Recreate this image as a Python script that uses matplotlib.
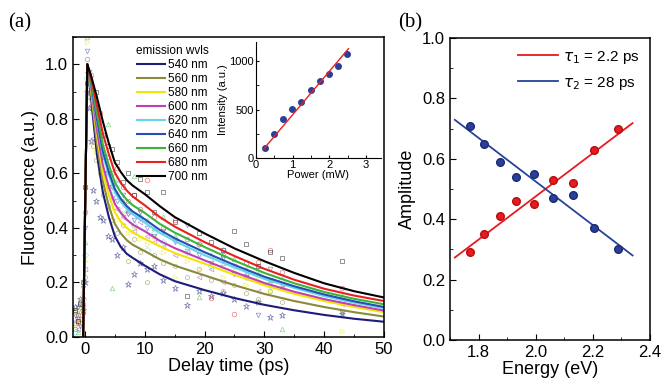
import numpy as np
import matplotlib
matplotlib.use("Agg")
import matplotlib.pyplot as plt
from matplotlib.ticker import MultipleLocator

plt.rcParams['font.family'] = ['Liberation Sans', 'DejaVu Sans']

# ---- panel (a): fitted decay curves ----
wvls = ["540 nm", "560 nm", "580 nm", "600 nm", "620 nm", "640 nm", "660 nm", "680 nm", "700 nm"]
colors = ["#1c1c7a", "#8a8a3c", "#f2e600", "#c040b4", "#66d4ec", "#2450b0", "#3cb43c", "#e8201e", "#000000"]
markers = ["*", "h", ">", "<", "D", "v", "^", "o", "s"]

t_fit = [-0.3, 0.4, 1, 2, 3, 4, 5, 6, 7, 8, 10, 12.5, 15, 20, 25, 30, 35, 40, 45, 50]
fit_540 = [0, 1.0, .88, .67, .53, .44, .37, .33, .305, .29, .262, .23, .205, .172, .143, .118, .098, .081, .067, .056]
fit_560 = [0, 1.0, .90, .71, .57, .48, .415, .38, .355, .338, .315, .285, .262, .226, .19, .158, .132, .11, .091, .075]
fit_580 = [0, 1.0, .91, .74, .60, .52, .457, .423, .40, .383, .36, .333, .308, .269, .228, .19, .158, .132, .11, .091]
fit_600 = [0, 1.0, .92, .76, .63, .55, .488, .455, .43, .412, .388, .353, .326, .281, .238, .198, .166, .139, .117, .097]
fit_620 = [0, 1.0, .93, .79, .67, .595, .532, .496, .47, .45, .42, .382, .352, .30, .255, .213, .18, .15, .126, .106]
fit_640 = [0, 1.0, .935, .80, .68, .605, .543, .507, .48, .46, .432, .393, .362, .311, .264, .221, .186, .156, .131, .11]
fit_660 = [0, 1.0, .94, .82, .705, .63, .567, .53, .503, .483, .455, .415, .383, .33, .28, .235, .197, .165, .14, .12]
fit_680 = [0, 1.0, .95, .85, .745, .67, .603, .565, .537, .515, .483, .44, .405, .348, .297, .25, .21, .177, .152, .132]
fit_700 = [0, 1.0, .96, .88, .79, .71, .64, .605, .575, .555, .524, .48, .44, .38, .325, .278, .235, .197, .168, .145]
fits = [fit_540, fit_560, fit_580, fit_600, fit_620, fit_640, fit_660, fit_680, fit_700]

# measured points (same delay grid for every wavelength)
t_data = [-1.6, -1.2, -0.8, -0.4, 0.0, 0.3, 0.6, 1.0, 1.4, 1.9, 2.5, 3.1, 3.8, 4.6, 5.4, 6.3, 7.2,
          8.2, 9.2, 10.3, 11.5, 13.0, 15.0, 17.0, 19.0, 21.0, 23.0, 25.0, 27.0, 29.0, 31.0, 33.0, 43.0]
dat_540 = [0.11, 0.07, 0.14, 0.10, 0.20, 0.90, 0.84, 0.72, 0.54, 0.50, 0.44, 0.43, 0.37, 0.36, 0.30, 0.33, 0.196,
           0.232, 0.27, 0.25, 0.26, 0.21, 0.18, 0.117, 0.17, 0.15, 0.16, 0.14, 0.114, 0.13, 0.072, 0.08, 0.085]
dat_560 = [0.09, 0.05, 0.13, 0.11, 0.22, 0.93, 0.88, 0.84, 0.70, 0.65, 0.60, 0.52, 0.48, 0.43, 0.38, 0.41, 0.28,
           0.36, 0.31, 0.20, 0.30, 0.27, 0.26, 0.22, 0.25, 0.21, 0.17, 0.19, 0.16, 0.14, 0.17, 0.13, 0.09]
dat_580 = [0.04, 0.10, 0.06, 0.16, 0.28, 1.08, 0.92, 0.87, 0.71, 0.68, 0.62, 0.56, 0.52, 0.47, 0.43, 0.45, 0.38,
           0.40, 0.36, 0.34, 0.37, 0.31, 0.22, 0.28, 0.25, 0.27, 0.22, 0.24, 0.19, 0.21, 0.17, 0.18, 0.023]
dat_600 = [0.06, 0.03, 0.12, 0.09, 0.25, 0.97, 0.90, 0.85, 0.73, 0.72, 0.66, 0.60, 0.55, 0.51, 0.47, 0.44, 0.46,
           0.39, 0.42, 0.37, 0.35, 0.33, 0.30, 0.31, 0.22, 0.25, 0.20, 0.26, 0.23, 0.17, 0.21, 0.18, 0.12]
dat_620 = [0.02, 0.07, 0.10, 0.14, 0.30, 0.95, 0.92, 0.88, 0.82, 0.76, 0.75, 0.64, 0.60, 0.52, 0.56, 0.47, 0.46,
           0.41, 0.44, 0.32, 0.38, 0.35, 0.36, 0.31, 0.34, 0.26, 0.32, 0.26, 0.22, 0.24, 0.19, 0.21, 0.13]
dat_640 = [0.08, 0.11, 0.04, 0.18, 0.40, 1.05, 0.97, 0.91, 0.84, 0.79, 0.70, 0.66, 0.60, 0.55, 0.50, 0.52, 0.45,
           0.43, 0.46, 0.40, 0.37, 0.39, 0.35, 0.41, 0.30, 0.27, 0.29, 0.23, 0.22, 0.08, 0.25, 0.19, 0.09]
dat_660 = [0.05, 0.02, 0.09, 0.15, 0.35, 1.10, 0.93, 0.88, 0.86, 0.78, 0.74, 0.66, 0.78, 0.178, 0.58, 0.50, 0.47,
           0.59, 0.44, 0.43, 0.40, 0.44, 0.37, 0.33, 0.147, 0.30, 0.27, 0.287, 0.25, 0.23, 0.21, 0.03, 0.15]
dat_680 = [0.03, 0.08, 0.05, 0.12, 0.46, 1.02, 0.95, 0.96, 0.88, 0.84, 0.82, 0.71, 0.66, 0.60, 0.62, 0.55, 0.50,
           0.52, 0.47, 0.575, 0.44, 0.40, 0.43, 0.36, 0.34, 0.143, 0.30, 0.086, 0.27, 0.275, 0.32, 0.24, 0.178]
dat_700 = [0.10, 0.06, 0.12, 0.20, 0.55, 0.93, 0.94, 0.92, 0.86, 0.90, 0.80, 0.74, 0.70, 0.69, 0.64, 0.57, 0.60,
           0.52, 0.58, 0.53, 0.46, 0.53, 0.42, 0.15, 0.38, 0.35, 0.32, 0.39, 0.34, 0.26, 0.31, 0.29, 0.28]
dats = [dat_540, dat_560, dat_580, dat_600, dat_620, dat_640, dat_660, dat_680, dat_700]

# inset: intensity vs power
power = [0.24, 0.49, 0.74, 0.99, 1.24, 1.49, 1.74, 2.0, 2.24, 2.49]
intensity = [100, 247, 399, 502, 580, 701, 794, 873, 951, 1072]
power_fit = [0.21, 2.52]
intensity_fit = [93, 1131]

# ---- panel (b): amplitudes vs energy ----
energy = [1.769, 1.82, 1.875, 1.932, 1.994, 2.06, 2.13, 2.205, 2.287]
amp1 = [0.29, 0.35, 0.41, 0.46, 0.45, 0.53, 0.52, 0.63, 0.70]
amp2 = [0.71, 0.65, 0.59, 0.54, 0.55, 0.47, 0.48, 0.37, 0.30]
e_fit = [1.717, 2.339]
amp1_fit = [0.273, 0.718]
amp2_fit = [0.729, 0.280]

fig = plt.figure(figsize=(6.64, 3.86), dpi=100)
ax = fig.add_axes([0.1099, 0.1269, 0.4684, 0.7772])
ax2 = fig.add_axes([0.6777, 0.1192, 0.3012, 0.7824])
axin = fig.add_axes([0.3855, 0.5907, 0.188, 0.3005])

for d, c, m in zip(dats, colors, markers):
    ms = 4.5 if m == "*" else 3.3
    ax.plot(t_data, d, linestyle="none", marker=m, ms=ms, mfc="none", mec=c, mew=0.5, alpha=0.6)
for f, c, lab in zip(fits, colors, wvls):
    ax.plot(t_fit, f, color=c, lw=1.5, label=lab)

ax.set_xlim(-2, 50)
ax.set_ylim(0, 1.1)
ax.xaxis.set_major_locator(MultipleLocator(10))
ax.xaxis.set_minor_locator(MultipleLocator(5))
ax.yaxis.set_major_locator(MultipleLocator(0.2))
ax.yaxis.set_minor_locator(MultipleLocator(0.1))
ax.yaxis.set_major_formatter(matplotlib.ticker.FormatStrFormatter("%.1f"))
ax.tick_params(which="both", direction="in", labelsize=12)
ax.tick_params(which="major", length=4)
ax.tick_params(which="minor", length=2.5)
ax.set_xlabel("Delay time (ps)", fontsize=13, labelpad=1)
ax.set_ylabel("Fluorescence (a.u.)", fontsize=13, labelpad=4)
leg = ax.legend(loc="upper left", bbox_to_anchor=(0.175, 1.0), frameon=False, fontsize=8.5,
                title="emission wvls", title_fontsize=8.5, handlelength=2.4, handletextpad=0.2,
                labelspacing=0.17, borderaxespad=0.3)

# inset
axin.plot(power, intensity, "o", color="#2a3f9a", ms=4)
axin.plot(power_fit, intensity_fit, color="#e8201e", lw=1)
axin.set_xlim(0, 3.4)
axin.set_ylim(0, 1200)
axin.patch.set_alpha(0)
for s in ["top", "right"]:
    axin.spines[s].set_visible(False)
axin.xaxis.set_major_locator(MultipleLocator(1))
axin.xaxis.set_minor_locator(MultipleLocator(0.5))
axin.yaxis.set_major_locator(MultipleLocator(500))
axin.yaxis.set_minor_locator(MultipleLocator(250))
axin.tick_params(which="both", direction="in", labelsize=8, length=2.5, pad=1.5)
axin.set_xlabel("Power (mW)", fontsize=8, labelpad=0)
axin.set_ylabel("Intensity (a.u.)", fontsize=8, labelpad=1)

# panel b
ax2.plot(e_fit, amp1_fit, color="#e8191f", lw=1.3, label=r"$\tau_1$ = 2.2 ps")
ax2.plot(e_fit, amp2_fit, color="#26439a", lw=1.3, label=r"$\tau_2$ = 28 ps")
ax2.plot(energy, amp1, "o", color="#e8191f", mec="#b01010", ms=5.5)
ax2.plot(energy, amp2, "o", color="#2a3f9a", mec="#1a2a70", ms=5.5)
ax2.set_xlim(1.7, 2.4)
ax2.set_ylim(0, 1.0)
ax2.xaxis.set_major_locator(MultipleLocator(0.2))
ax2.xaxis.set_minor_locator(MultipleLocator(0.1))
ax2.yaxis.set_major_locator(MultipleLocator(0.2))
ax2.yaxis.set_minor_locator(MultipleLocator(0.1))
ax2.yaxis.set_major_formatter(matplotlib.ticker.FormatStrFormatter("%.1f"))
ax2.tick_params(which="both", direction="in", labelsize=12)
ax2.tick_params(which="major", length=4)
ax2.tick_params(which="minor", length=2.5)
ax2.set_xlabel("Energy (eV)", fontsize=13, labelpad=1)
ax2.set_ylabel("Amplitude", fontsize=13, labelpad=4)
ax2.legend(loc="upper right", frameon=False, fontsize=11, handlelength=2.6,
           handletextpad=0.3, labelspacing=0.6, borderaxespad=0.3)

for a in [ax, ax2]:
    for s in a.spines.values():
        s.set_linewidth(1.1)

fig.text(0.012, 0.93, "(a)", fontsize=15, family="Liberation Serif")
fig.text(0.600, 0.93, "(b)", fontsize=15, family="Liberation Serif")

fig.savefig("out.png", dpi=100)
